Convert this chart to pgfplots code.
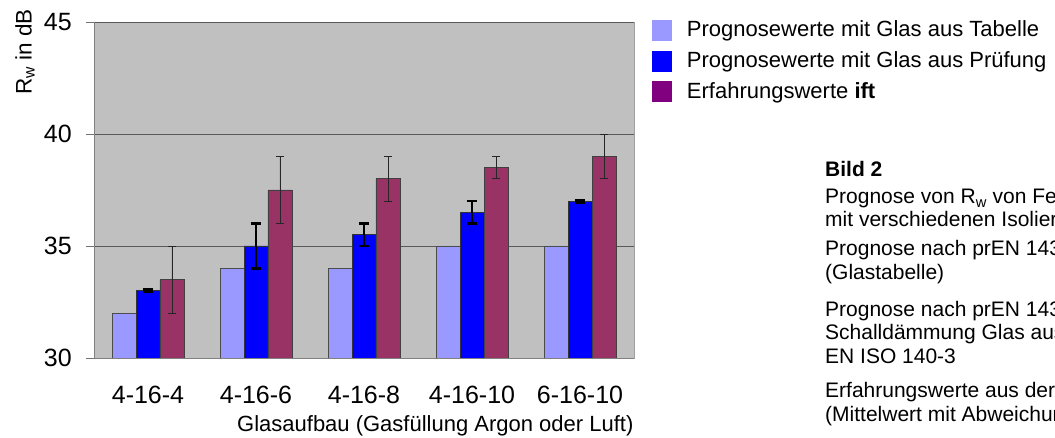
\documentclass[border=0pt]{standalone}
\usepackage{pgfplots}
\usepackage{pgfplotstable}
\pgfplotsset{compat=1.18}
\usepackage{fontspec}
\setmainfont{Liberation Sans}
\definecolor{cTab}{HTML}{9999FF}
\definecolor{cPru}{HTML}{0000FF}
\definecolor{cIft}{HTML}{993366}
\definecolor{cIftLeg}{HTML}{800080}
\definecolor{cBg}{HTML}{C0C0C0}
\definecolor{cFrame}{HTML}{A0A0A0}

% x: category, xa / xc: position of the left / right bar of each group
\pgfplotstableread{
x xa      xc     tab pru  prue ift  ifte
0 -0.2222 0.2222 32  33   0.05 33.5 1.5
1 0.7778  1.2222 34  35   1    37.5 1.5
2 1.7778  2.2222 34  35.5 0.5  38   1
3 2.7778  3.2222 35  36.5 0.5  38.5 0.5
4 3.7778  4.2222 35  37   0.05 39   1
}\datatable

\begin{document}
\begin{tikzpicture}[font=\fontsize{21bp}{24bp}\selectfont]
\useasboundingbox (0,0) rectangle (1055bp,438bp);
\begin{axis}[
  at={(94bp,80bp)}, anchor=south west, scale only axis,
  width=540bp, height=336bp,
  xmin=-0.5, xmax=4.5, ymin=30, ymax=45,
  axis background/.style={fill=cBg, draw=cFrame, line width=0.8bp},
  axis x line*=bottom, axis y line*=left,
  axis line style={draw=black!50, line width=0.8bp},
  ytick={30,35,40,45},
  ymajorgrids,
  major grid style={draw=black!65, line width=0.8bp},
  xtick={0,1,2,3,4},
  xticklabels={4-16-4,4-16-6,4-16-8,4-16-10,6-16-10},
  xtick style={draw=none},
  extra x ticks={-0.5,0.5,1.5,2.5,3.5,4.5},
  extra x tick labels={},
  extra x tick style={draw=black!55, line width=0.8bp, grid=none},
  ytick style={draw=black!55, line width=0.8bp},
  tick align=outside, major tick length=8bp,
  /pgf/number format/assume math mode=true,
  yticklabel style={font=\fontsize{25bp}{26bp}\selectfont, anchor=east, inner sep=0pt, xshift=-14bp},
  xticklabel style={font=\fontsize{25bp}{26bp}\selectfont, anchor=north, inner sep=0pt, yshift=-20bp},
  legend image code/.code={\fill[#1, draw=none] (0bp,-4.3bp) rectangle (20bp,16.7bp);},
  legend cell align=left,
  legend style={at={(1.0333,1.006)}, anchor=north west, draw=none, fill=none,
    inner sep=0pt, outer sep=0pt, row sep=9.7bp, column sep=15bp,
    nodes={inner sep=0pt, anchor=base west},
    font=\fontsize{22bp}{24bp}\selectfont},
]
\addplot[ybar, bar width=24bp, bar shift=0bp, fill=cTab, draw=black!70, line width=0.7bp, forget plot]
  table[x=xa, y=tab] {\datatable};
\addplot[ybar, bar width=24bp, bar shift=0bp, fill=cPru, draw=black!80, line width=0.7bp, forget plot,
  error bars/.cd, y dir=both, y explicit,
  error bar style={draw=black, line width=2.5bp},
  error mark options={rotate=90, draw=black, line width=2.5bp, mark size=5.3bp}]
  table[x=x, y=pru, y error=prue] {\datatable};
\addplot[ybar, bar width=24bp, bar shift=0bp, fill=cIft, draw=black!75, line width=0.7bp, forget plot,
  error bars/.cd, y dir=both, y explicit,
  error bar style={draw=black!85, line width=0.9bp},
  error mark options={rotate=90, draw=black!85, line width=0.9bp, mark size=4.2bp}]
  table[x=xc, y=ift, y error=ifte] {\datatable};
\addlegendimage{fill=cTab}
\addlegendentry{Prognosewerte mit Glas aus Tabelle}
\addlegendimage{fill=cPru}
\addlegendentry{Prognosewerte mit Glas aus Prüfung}
\addlegendimage{fill=cIftLeg}
\addlegendentry{Erfahrungswerte \textbf{ift}}
\end{axis}
\node[rotate=90, anchor=base, inner sep=0pt, font=\fontsize{22.5bp}{24bp}\selectfont] at (31.5bp,386bp) {R\textsubscript{w} in dB};
\node[anchor=base west, inner sep=0pt, font=\fontsize{22bp}{24bp}\selectfont] at (237bp,6.3bp) {Glasaufbau (Gasfüllung Argon oder Luft)};
\begin{scope}
\clip (0,0) rectangle (1055bp,438bp);
\node[anchor=base west, inner sep=0pt] at (825bp,261bp) {\bfseries Bild 2};
\node[anchor=base west, inner sep=0pt] at (825bp,234bp) {Prognose von R\textsubscript{w} von Fenstern};
\node[anchor=base west, inner sep=0pt] at (825bp,211bp) {mit verschiedenen Isoliergläsern};
\node[anchor=base west, inner sep=0pt] at (825bp,182bp) {Prognose nach prEN 14351-1};
\node[anchor=base west, inner sep=0pt] at (825bp,158bp) {(Glastabelle)};
\node[anchor=base west, inner sep=0pt] at (825bp,121bp) {Prognose nach prEN 14351-1};
\node[anchor=base west, inner sep=0pt] at (825bp,98bp) {Schalldämmung Glas aus Prüfung nach};
\node[anchor=base west, inner sep=0pt] at (825bp,74bp) {EN ISO 140-3};
\node[anchor=base west, inner sep=0pt] at (825bp,40bp) {Erfahrungswerte aus der Datenbank};
\node[anchor=base west, inner sep=0pt] at (825bp,17bp) {(Mittelwert mit Abweichung)};
\end{scope}
\end{tikzpicture}
\end{document}
